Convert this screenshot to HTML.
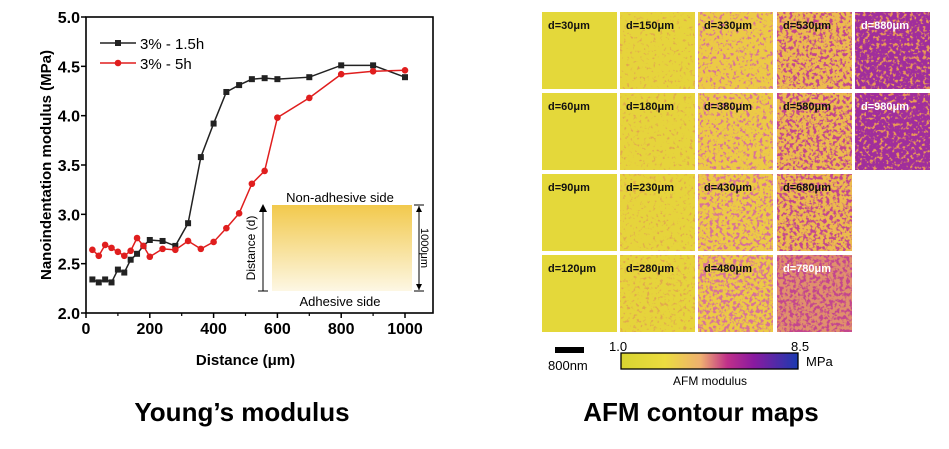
<!DOCTYPE html>
<html><head><meta charset="utf-8"><style>
body{margin:0;background:#fff;}
svg{display:block;font-family:"Liberation Sans",sans-serif;}
</style></head><body>
<svg id="fig" width="949" height="449" viewBox="0 0 949 449">
<defs>
<linearGradient id="insetGrad" x1="0" y1="0" x2="0" y2="1">
<stop offset="0" stop-color="#f2c94c"/><stop offset="1" stop-color="#fdf7e4"/>
</linearGradient>
<linearGradient id="cbar" x1="0" y1="0" x2="1" y2="0">
<stop offset="0" stop-color="#d8d430"/><stop offset="0.25" stop-color="#ecdc40"/><stop offset="0.45" stop-color="#efb070"/>
<stop offset="0.6" stop-color="#c0308a"/><stop offset="0.75" stop-color="#8a1aa0"/><stop offset="1" stop-color="#1a3ab0"/>
</linearGradient>
</defs>
<g id="chart"></g>
<g id="afm"></g>
<text x="242" y="421" font-size="26" font-weight="bold" text-anchor="middle">Young’s modulus</text>
<text x="701" y="421" font-size="26" font-weight="bold" text-anchor="middle">AFM contour maps</text>
</svg>
<script>
const xTicks=[0,200,400,600,800,1000];
const yTicks=[2.0,2.5,3.0,3.5,4.0,4.5,5.0];
const xVals=[20,40,60,80,100,120,140,160,180,200,240,280,320,360,400,440,480,520,560,600,700,800,900,1000];
const black15h=[2.34,2.31,2.34,2.31,2.44,2.41,2.54,2.60,2.68,2.74,2.73,2.68,2.91,3.58,3.92,4.24,4.31,4.37,4.38,4.37,4.39,4.51,4.51,4.39];
const red5h=[2.64,2.58,2.69,2.66,2.62,2.58,2.63,2.76,2.68,2.57,2.65,2.64,2.73,2.65,2.72,2.86,3.01,3.31,3.44,3.98,4.18,4.42,4.45,4.46];
const tileLabels=[["d=30μm","d=60μm","d=90μm","d=120μm"],["d=150μm","d=180μm","d=230μm","d=280μm"],["d=330μm","d=380μm","d=430μm","d=480μm"],["d=530μm","d=580μm","d=680μm","d=780μm"],["d=880μm","d=980μm"]];
const tileDensity=[[0,0,0,0],[0.1,0.15,0.18,0.25],[0.3,0.35,0.45,0.55],[0.5,0.55,0.55,0.6],[0.6,0.65]];

const NS="http://www.w3.org/2000/svg";
function mk(p,t,a){const e=document.createElementNS(NS,t);for(const k in a)e.setAttribute(k,a[k]);p.appendChild(e);return e;}
const X0=86,X1=405,Y0=313,Y1=17,R=433;
const sx=v=>X0+(v-0)/(1000-0)*(X1-X0);
const sy=v=>Y0-(v-2)/(5-2)*(Y0-Y1);
const ch=document.getElementById('chart');

const ins=mk(ch,'g',{});


mk(ins,'rect',{x:272,y:205,width:140,height:86,fill:'url(#insetGrad)'});
let t=mk(ins,'text',{x:340,y:202,'font-size':13,'text-anchor':'middle'});t.textContent='Non-adhesive side';
t=mk(ins,'text',{x:340,y:306,'font-size':13,'text-anchor':'middle'});t.textContent='Adhesive side';
mk(ins,'line',{x1:263,y1:210,x2:263,y2:291,stroke:'#000','stroke-width':1});
mk(ins,'line',{x1:258,y1:291,x2:268,y2:291,stroke:'#000','stroke-width':1});
mk(ins,'path',{d:'M259,212 L263,204 L267,212 Z',fill:'#000'});
t=mk(ins,'text',{x:0,y:0,'font-size':12,'text-anchor':'middle',transform:'translate(255 248) rotate(-90)'});t.textContent='Distance (d)';
mk(ins,'line',{x1:419,y1:206,x2:419,y2:290,stroke:'#000','stroke-width':1});
mk(ins,'line',{x1:414,y1:205,x2:424,y2:205,stroke:'#000','stroke-width':1});
mk(ins,'line',{x1:414,y1:291,x2:424,y2:291,stroke:'#000','stroke-width':1});
mk(ins,'path',{d:'M416,212 L419,206 L422,212 Z M416,284 L419,290 L422,284 Z',fill:'#000'});
t=mk(ins,'text',{x:0,y:0,'font-size':11,'text-anchor':'middle',fill:'#000',transform:'translate(421 248) rotate(90)'});t.textContent='1000μm';

const fr=mk(ch,'rect',{x:X0,y:Y1,width:R-X0,height:Y0-Y1,fill:'none',stroke:'#000','stroke-width':1.6});


xTicks.forEach(v=>{
 mk(ch,'line',{x1:sx(v),y1:Y0,x2:sx(v),y2:Y0+5,stroke:'#000','stroke-width':1.5});
 const l=mk(ch,'text',{x:sx(v),y:334,'font-size':16,'font-weight':'bold','text-anchor':'middle'});
 
 
 l.textContent=v;
});
[100,300,500,700,900].forEach(v=>mk(ch,'line',{x1:sx(v),y1:Y0,x2:sx(v),y2:Y0+3,stroke:'#000','stroke-width':1.2}));
yTicks.forEach(v=>{
 mk(ch,'line',{x1:X0-5,y1:sy(v),x2:X0,y2:sy(v),stroke:'#000','stroke-width':1.5});
 const l=mk(ch,'text',{x:X0-6,y:sy(v)+6,'font-size':16,'font-weight':'bold','text-anchor':'end'});
 
 
 l.textContent=v.toFixed(1);
});
t=mk(ch,'text',{x:sx(500),y:365,'font-size':15,'font-weight':'bold','text-anchor':'middle'});


t.textContent='Distance (μm)';
t=mk(ch,'text',{x:0,y:0,'font-size':15,'font-weight':'bold','text-anchor':'middle',transform:'translate(51 165) rotate(-90)'});


t.textContent='Nanoindentation modulus (MPa)';

function series(vals,color,sq,name){
 const g=mk(ch,'g',{});
 
 
 mk(g,'polyline',{points:xVals.map((x,i)=>sx(x)+','+sy(vals[i])).join(' '),fill:'none',stroke:color,'stroke-width':1.5});
 xVals.forEach((x,i)=>{
  const m=sq?mk(g,'rect',{x:sx(x)-3,y:sy(vals[i])-3,width:6,height:6,fill:color}):mk(g,'circle',{cx:sx(x),cy:sy(vals[i]),r:3.3,fill:color});
  
  
 });
}
series(black15h,'#222',true,'series-3pct-1-5h');
series(red5h,'#e01e1e',false,'series-3pct-5h');
const lg=mk(ch,'g',{});


mk(lg,'line',{x1:100,y1:43,x2:136,y2:43,stroke:'#222','stroke-width':1.5});
mk(lg,'rect',{x:115,y:40,width:6,height:6,fill:'#222'});
t=mk(lg,'text',{x:140,y:49,'font-size':15});t.textContent='3% - 1.5h';
mk(lg,'line',{x1:100,y1:63,x2:136,y2:63,stroke:'#e01e1e','stroke-width':1.5});
mk(lg,'circle',{cx:118,cy:63,r:3.3,fill:'#e01e1e'});
t=mk(lg,'text',{x:140,y:69,'font-size':15});t.textContent='3% - 5h';

const af=document.getElementById('afm');
const defs=document.querySelector('defs');
const colX=[542,620,698,777,855],rowY=[12,93,174,255];
const bases=['#e4d83a','#e6d43c','#ecca46','#ecbb4e','#a02e9c'];
const spk=['#e0a050','#e2a84e','#d8709a','#c4448e','#ea9a55'];
tileLabels.forEach((col,c)=>col.forEach((lab,r)=>{
 const d0=tileDensity[c][r];
 const d=c===4?(1-d0):d0;
 const fid='f'+c+'_'+r;
 const f=mk(defs,'filter',{id:fid,x:0,y:0,width:1,height:1});
 mk(f,'feTurbulence',{type:'fractalNoise',baseFrequency:0.3,numOctaves:2,seed:c*4+r+1,result:'n'});
 const th=0.64-d*0.3;
 mk(f,'feColorMatrix',{in:'n',type:'matrix',values:'0 0 0 0 0 0 0 0 0 0 0 0 0 0 0 '+(d>0?'6 0 0 0 '+(-6*th):'0 0 0 0 0'),result:'a'});
 mk(f,'feFlood',{'flood-color':spk[c]});
 mk(f,'feComposite',{in2:'a',operator:'in'});
 const base=(c===3&&r===3)?'#e0906c':bases[c];
 const g=mk(af,'g',{});
 
 
 mk(g,'rect',{x:colX[c],y:rowY[r],width:75,height:77,fill:base});
 if(d>0)mk(g,'rect',{x:colX[c],y:rowY[r],width:75,height:77,fill:'#000',filter:'url(#'+fid+')'});
 const white=(c===4)||(c===3&&r===3);
 const tx=mk(g,'text',{x:colX[c]+6,y:rowY[r]+17,'font-size':11,'font-weight':'bold',fill:white?'#fff':'#111'});
 tx.textContent=lab;
}));
let e=mk(af,'rect',{x:555,y:347,width:29,height:6,fill:'#000'});


t=mk(af,'text',{x:548,y:370,'font-size':13});t.textContent='800nm';
e=mk(af,'rect',{x:621,y:353,width:177,height:16,fill:'url(#cbar)',stroke:'#000','stroke-width':1.3});


t=mk(af,'text',{x:609,y:351,'font-size':13});t.textContent='1.0';
t=mk(af,'text',{x:791,y:351,'font-size':13});t.textContent='8.5';
t=mk(af,'text',{x:806,y:366,'font-size':13});t.textContent='MPa';
t=mk(af,'text',{x:710,y:385,'font-size':12,'text-anchor':'middle'});t.textContent='AFM modulus';
</script>
</body></html>
